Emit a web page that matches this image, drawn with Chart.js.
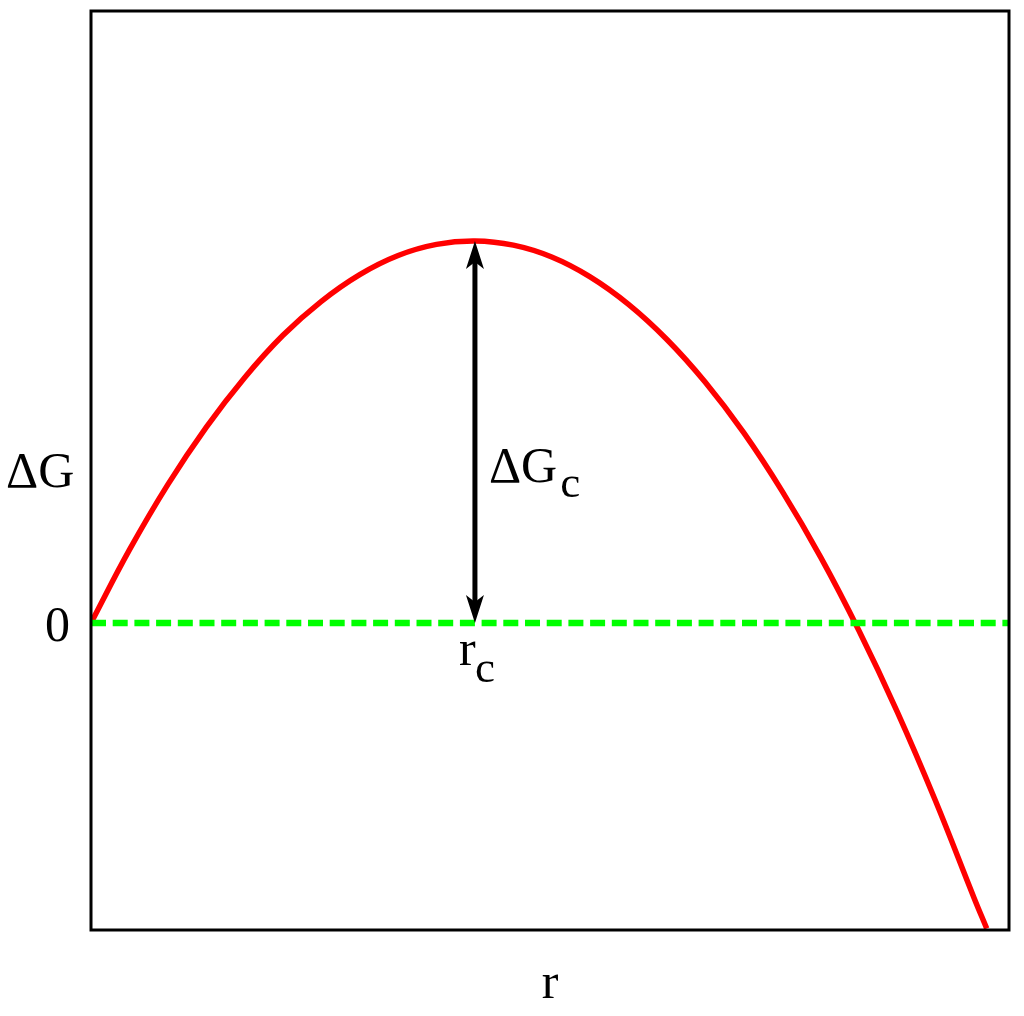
<!DOCTYPE html>
<html>
<head>
<meta charset="utf-8">
<title>Nucleation free energy</title>
<script src="https://cdn.jsdelivr.net/npm/chart.js@4"></script>
<style>
  html, body { margin: 0; padding: 0; background: #fff; }
  canvas { display: block; }
</style>
</head>
<body>
<canvas id="myChart" width="1024" height="1016"></canvas>
<script>
// radius r (in units of r_c)
const rValues = [0, 0.1, 0.2, 0.3, 0.4, 0.5, 0.6, 0.7, 0.8, 0.9, 1.0,
  1.1, 1.2, 1.3, 1.4, 1.5, 1.6, 1.7, 1.8, 1.9, 2.0, 2.1, 2.2, 2.3, 2.333];
// free energy change (in units of dG_c)
const dGValues = [0, 0.191, 0.362, 0.512, 0.642, 0.753, 0.842, 0.912, 0.962, 0.991, 1.0,
  0.989, 0.958, 0.906, 0.834, 0.742, 0.63, 0.498, 0.345, 0.173, -0.02, -0.233, -0.467, -0.72, -0.8];

// zero reference line
const zeroLineR = [0, 2.391];
const zeroLineG = [0, 0];

// critical point
const rc = 1.0;
const dGc = 1.0;

const font = '50px "Liberation Serif"';
const subFont = '45px "Liberation Serif"';

const annotations = {
    id: "annotations",
    beforeDraw(chart) {
        const ctx = chart.ctx;
        ctx.save();
        ctx.fillStyle = "#fff";
        ctx.fillRect(0, 0, chart.width, chart.height);
        ctx.restore();
    },
    afterDatasetsDraw(chart) {
        const ctx = chart.ctx;
        const x = chart.scales.x;
        const y = chart.scales.y;
        const xc = x.getPixelForValue(rc);
        const yTop = y.getPixelForValue(dGc);
        const yBot = y.getPixelForValue(0);

        // double headed arrow for dG_c
        ctx.save();
        ctx.strokeStyle = "#000";
        ctx.fillStyle = "#000";
        ctx.lineWidth = 5;
        ctx.beginPath();
        ctx.moveTo(xc, yTop + 20);
        ctx.lineTo(xc, yBot - 20);
        ctx.stroke();
        const head = (tipY, dir) => {
            ctx.beginPath();
            ctx.moveTo(xc, tipY);
            ctx.lineTo(xc - 9, tipY + dir * 28);
            ctx.lineTo(xc, tipY + dir * 21);
            ctx.lineTo(xc + 9, tipY + dir * 28);
            ctx.closePath();
            ctx.fill();
        };
        head(yTop, 1);
        head(yBot, -1);
        ctx.restore();
    },
    afterDraw(chart) {
        const ctx = chart.ctx;
        const area = chart.chartArea;
        const x = chart.scales.x;
        const y = chart.scales.y;
        ctx.save();

        // frame
        ctx.strokeStyle = "#000";
        ctx.lineWidth = 3;
        ctx.strokeRect(area.left, area.top, area.right - area.left, area.bottom - area.top);

        ctx.fillStyle = "#000";
        ctx.font = font;
        ctx.textBaseline = "alphabetic";

        // y label and zero tick
        ctx.textAlign = "left";
        ctx.fillText("\u0394G", area.left - 85, 487);
        ctx.textAlign = "right";
        ctx.fillText("0", area.left - 21, y.getPixelForValue(0) + 18);

        // dG_c next to the arrow
        const xc = x.getPixelForValue(rc);
        ctx.textAlign = "left";
        ctx.fillText("\u0394G", xc + 14, 482);
        const w = ctx.measureText("\u0394G").width;
        ctx.font = subFont;
        ctx.fillText("c", xc + 14 + w + 3, 497);

        // r_c under the arrow
        ctx.font = font;
        ctx.fillText("r", xc - 16, y.getPixelForValue(0) + 42);
        ctx.font = subFont;
        ctx.fillText("c", xc, y.getPixelForValue(0) + 59);

        // x label
        ctx.font = font;
        ctx.textAlign = "center";
        ctx.fillText("r", (area.left + area.right) / 2, 998);
        ctx.restore();
    }
};

const data = {
    datasets: [
        {
            label: "zero",
            data: zeroLineR.map((r, i) => ({ x: r, y: zeroLineG[i] })),
            borderColor: "#00ff00",
            borderWidth: 6.5,
            borderDash: [15, 6.7],
            pointRadius: 0,
            showLine: true,
            order: 0,
        },
        {
            label: "dG",
            data: rValues.map((r, i) => ({ x: r, y: dGValues[i] })),
            borderColor: "#ff0000",
            borderWidth: 5.5,
            pointRadius: 0,
            showLine: true,
            tension: 0.4,
            order: 1,
        },
    ],
};

const config = {
    type: "scatter",
    data: data,
    options: {
        responsive: false,
        animation: false,
        layout: {
            padding: { left: 91, top: 11, right: 15, bottom: 86 },
        },
        scales: {
            x: { display: false, min: 0, max: 2.391 },
            y: { display: false, min: -0.804, max: 1.602 },
        },
        plugins: {
            legend: { display: false },
            tooltip: { enabled: false },
        },
    },
    plugins: [annotations],
};

new Chart(document.getElementById("myChart"), config);
</script>
</body>
</html>
